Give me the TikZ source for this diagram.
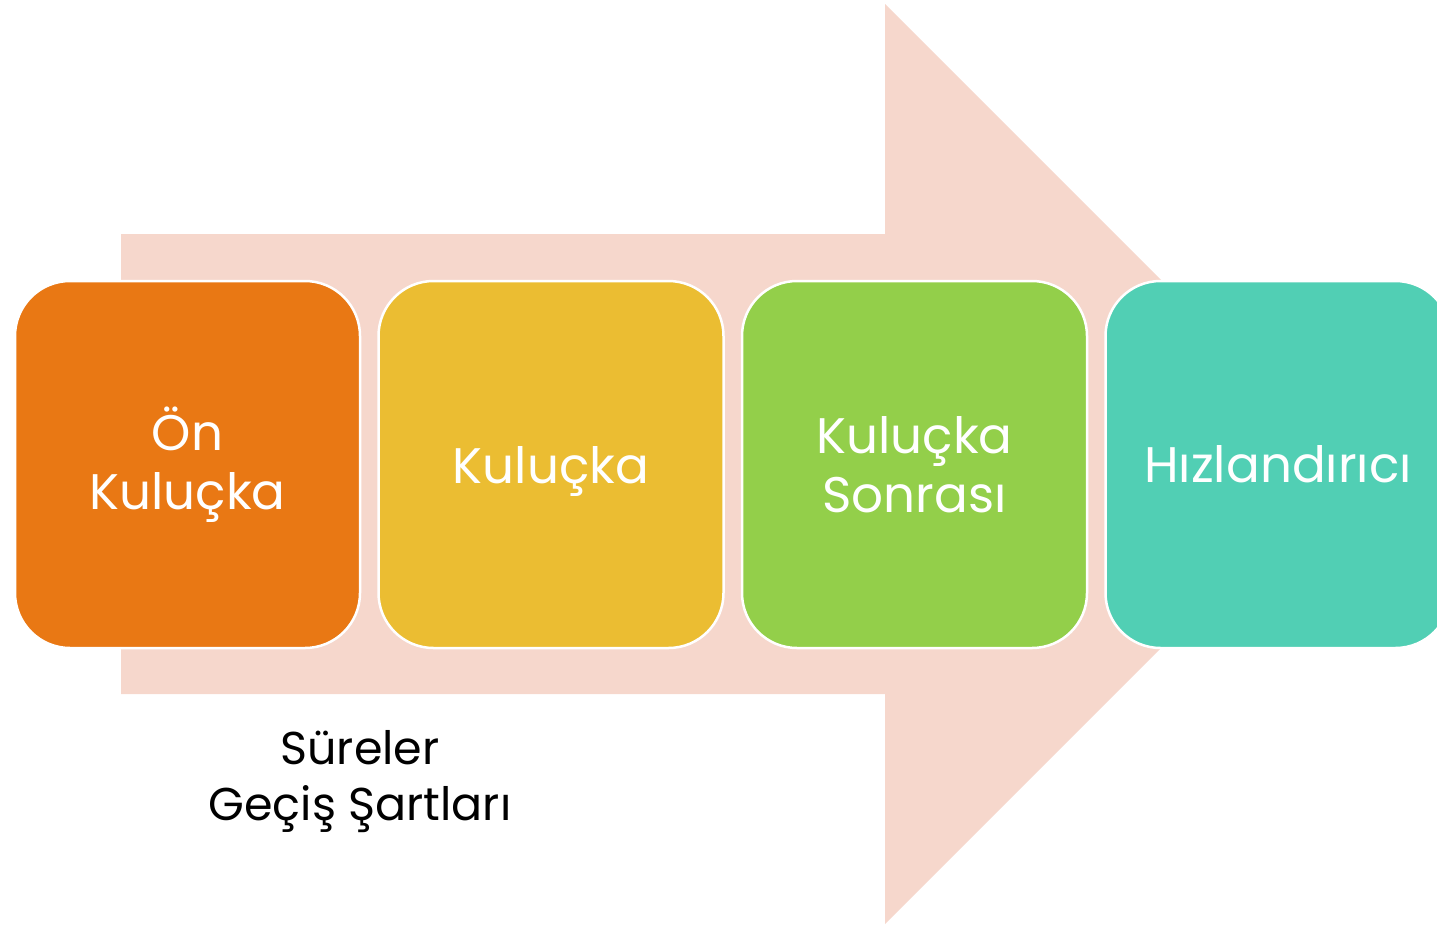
\documentclass[tikz,border=0pt]{standalone}
\usepackage{fontspec}
\setmainfont{Poppins}
\usepackage{tikz}
\definecolor {arrowpink}{HTML}{F6D7CC}
\definecolor {stageorange}{HTML}{E97814}
\definecolor {stageyellow}{HTML}{EBBD32}
\definecolor {stagegreen}{HTML}{93CF4A}
\definecolor {stageteal}{HTML}{51CFB4}
\usetikzlibrary {positioning}

\begin{document}
\begin{tikzpicture}[x=1pt ,y=-1pt ,node distance =16pt ,
stage/.style ={ rectangle ,rounded corners =55pt ,draw =white ,line width =2.5pt ,
text=white ,align=center ,minimum width =345pt ,minimum height =367pt ,
inner sep =0pt ,font=\fontsize{50}{59}\selectfont}]
  \useasboundingbox (0,0) rectangle (1437,927);
  \fill[arrowpink] (121,234) -- (885,234) -- (885,4) -- (1345,464)
    -- (885,924) -- (885,694) -- (121,694) -- cycle;
  \node[stage,fill=stageorange](preinc) at (187.5,464.5){Ön\\Kuluçka};
  \node[stage,fill=stageyellow](inc)[right = of preinc]{\raisebox{-19pt}[0pt][0pt]{Kuluçka}};
  \node[stage,fill=stagegreen](postinc)[right = of inc]{Kuluçka\\Sonrası};
  \node[stage,fill=stageteal](accel)[right = of postinc]{Hızlandırıcı};
  \node[align=center ,font=\fontsize{46}{56}\selectfont](note) at (360,782)
    {Süreler\\Geçiş Şartları};
\end{tikzpicture}
\end{document}
